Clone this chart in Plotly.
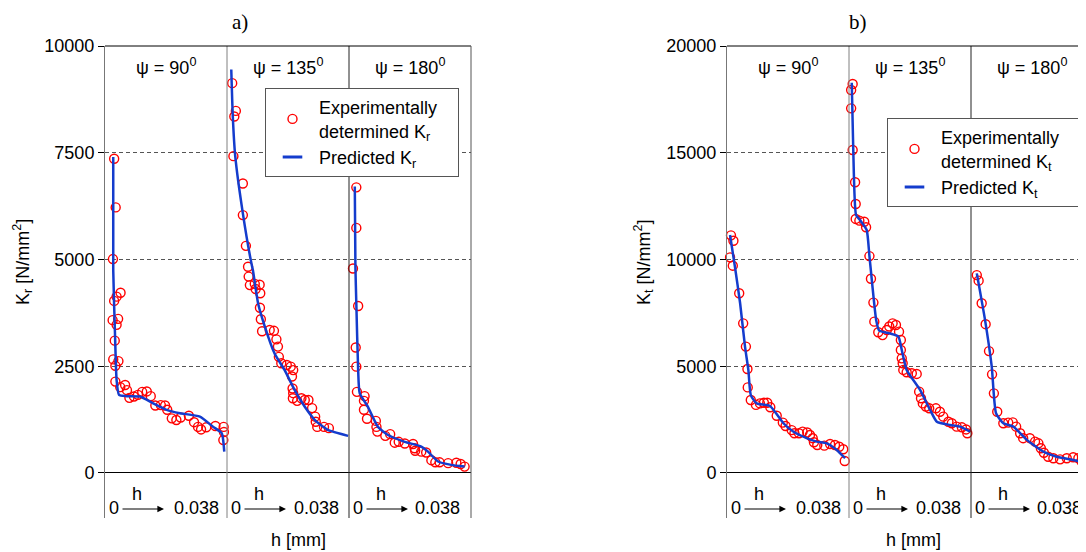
import plotly.graph_objects as go

SEG = 0.04  # h-axis width allotted to each psi segment
psi_labels = ["ψ = 90<sup>0</sup>", "ψ = 135<sup>0</sup>", "ψ = 180<sup>0</sup>"]
h_start_label = "0"
h_end_label = "0.038"
h_arrow_label = "h"
yticks_a = [0, 2500, 5000, 7500, 10000]
yticks_b = [0, 5000, 10000, 15000, 20000]

# ---------------- Panel a) K_r ----------------
a90_exp_h = [0.0030,0.0035,0.0026,0.0030,0.0038,0.0051,0.0025,0.0043,0.0038,0.0032,0.0027,0.0044,0.0034,0.0034,0.0050,0.0066,0.0072,0.0080,0.0095,0.0108,0.0122,0.0137,0.0150,0.0165,0.0183,0.0197,0.0204,0.0219,0.0234,0.0248,0.0275,0.0292,0.0305,0.0315,0.0332,0.0362,0.0389,0.0390,0.0388]
a90_exp_k = [7360,6220,5010,4030,4130,4220,3580,3610,3470,3100,2660,2620,2510,2140,2010,2060,1940,1760,1790,1830,1900,1910,1800,1580,1590,1580,1480,1280,1240,1300,1340,1190,1080,1020,1070,1100,1080,960,770]
a90_pred_h = [0.0027,0.0027,0.0033,0.0038,0.0046,0.0071,0.0115,0.0158,0.0202,0.0246,0.0311,0.0355,0.0383,0.0391]
a90_pred_k = [7400,4750,3190,2180,1830,1800,1790,1630,1480,1400,1320,1080,930,500]

a135_exp_h = [0.0017,0.0029,0.0024,0.0021,0.0052,0.0052,0.0062,0.0069,0.0071,0.0075,0.0091,0.0107,0.0094,0.0109,0.0108,0.0111,0.0115,0.0140,0.0154,0.0162,0.0167,0.0170,0.0178,0.0196,0.0209,0.0217,0.0213,0.0215,0.0217,0.0216,0.0230,0.0244,0.0255,0.0267,0.0279,0.0289,0.0291,0.0296,0.0318,0.0334]
a135_exp_k = [9130,8480,8350,7420,6780,6040,5320,4830,4600,4400,4430,4410,4310,4210,3870,3600,3320,3350,3330,3130,2960,2720,2570,2530,2490,2410,2260,1980,1870,1750,1690,1750,1710,1710,1520,1320,1200,1080,1080,1050]
a135_pred_h = [0.0014,0.0019,0.0027,0.0052,0.0080,0.0085,0.0102,0.0124,0.0156,0.0189,0.0222,0.0255,0.0288,0.0331,0.0397]
a135_pred_k = [9450,8350,7420,6080,4910,4750,3970,3430,2800,2410,1940,1550,1240,1010,870]

a180_exp_h = [0.0024,0.0024,0.0013,0.0030,0.0022,0.0024,0.0026,0.0051,0.0049,0.0049,0.0059,0.0088,0.0090,0.0093,0.0119,0.0135,0.0150,0.0163,0.0183,0.0210,0.0215,0.0217,0.0237,0.0253,0.0270,0.0283,0.0297,0.0325,0.0352,0.0366,0.0379]
a180_exp_k = [6690,5740,4790,3910,2940,2490,1900,1800,1690,1480,1270,1220,1080,970,870,910,710,730,690,680,580,520,500,480,300,250,250,230,240,210,150]
a180_pred_h = [0.0019,0.0021,0.0024,0.0030,0.0035,0.0062,0.0095,0.0128,0.0183,0.0237,0.0259,0.0292,0.0335,0.0379]
a180_pred_k = [6710,4830,3970,2410,1870,1550,1080,890,730,620,500,270,190,150]

# ---------------- Panel b) K_t ----------------
b90_exp_h = [0.0013,0.0021,0.0010,0.0019,0.0040,0.0053,0.0062,0.0067,0.0068,0.0078,0.0095,0.0108,0.0121,0.0132,0.0142,0.0163,0.0183,0.0192,0.0212,0.0221,0.0236,0.0248,0.0263,0.0272,0.0281,0.0285,0.0296,0.0319,0.0338,0.0354,0.0368,0.0381,0.0386]
b90_exp_k = [11130,10880,10100,9710,8420,7010,5920,4870,4010,3420,3190,3260,3290,3290,3080,2680,2360,2200,2010,1860,1860,1940,1900,1780,1630,1440,1310,1280,1360,1310,1230,1110,560]
b90_pred_h = [0.0010,0.0026,0.0043,0.0059,0.0070,0.0078,0.0097,0.0141,0.0185,0.0217,0.0261,0.0294,0.0327,0.0360,0.0387]
b90_pred_k = [11150,9660,7950,5920,4830,3650,3260,3140,2330,1940,1630,1470,1390,1080,690]

b135_exp_h = [0.0012,0.0007,0.0007,0.0012,0.0020,0.0022,0.0022,0.0034,0.0050,0.0056,0.0067,0.0072,0.0080,0.0083,0.0096,0.0110,0.0124,0.0132,0.0143,0.0154,0.0164,0.0170,0.0170,0.0173,0.0176,0.0178,0.0189,0.0206,0.0222,0.0230,0.0236,0.0242,0.0252,0.0263,0.0285,0.0298,0.0309,0.0326,0.0337,0.0353,0.0370,0.0384,0.0388]
b135_exp_k = [18220,17940,17080,15130,13620,12600,11900,11820,11770,11510,10160,9100,7980,7090,6590,6460,6700,6860,7010,6930,6620,6230,5760,5370,5140,4830,4720,4670,4640,3810,3500,3260,3110,3030,3030,2870,2640,2400,2330,2170,2140,2040,1860]
b135_pred_h = [0.0009,0.0014,0.0023,0.0036,0.0058,0.0067,0.0089,0.0099,0.0134,0.0162,0.0173,0.0189,0.0233,0.0266,0.0288,0.0331,0.0364,0.0397]
b135_pred_k = [18280,15130,12090,11850,11380,10160,7170,6670,6540,6390,5760,4830,3890,2950,2400,2250,2170,1940]

b180_exp_h = [0.0019,0.0025,0.0035,0.0048,0.0059,0.0069,0.0075,0.0086,0.0106,0.0122,0.0137,0.0148,0.0161,0.0171,0.0193,0.0210,0.0221,0.0229,0.0239,0.0253,0.0270,0.0292,0.0314,0.0335,0.0352,0.0363,0.0374]
b180_exp_k = [9270,9010,7950,6970,5710,4620,3730,2870,2330,2360,2370,2170,1860,1630,1630,1470,1390,1160,950,760,690,640,690,740,690,530,270]
b180_pred_h = [0.0019,0.0046,0.0068,0.0082,0.0106,0.0139,0.0183,0.0237,0.0281,0.0335,0.0377,0.0390]
b180_pred_k = [9350,7170,4980,2800,2330,2170,1550,1000,760,610,450,380]


def join(hs, ks):
    xs, ys = [], []
    for i, (h, k) in enumerate(zip(hs, ks)):
        xs += [i * SEG + v for v in h] + [None]
        ys += list(k) + [None]
    return xs, ys


RED = "rgb(255,0,0)"
BLUE = "rgb(20,60,205)"
FONT = "Liberation Sans, Arial, sans-serif"
OFF = 8               # page body margin offset
W, H = 1086 - OFF, 552 - OFF
PX = SEG / 122.0      # data units per pixel on the h axis
END_OFFS = [91, 89, 88]  # pixel offset of "0.038" label inside each segment


def fx(px):  # page pixel x -> paper fraction
    return (px - OFF) / W


def fy(py):  # page pixel y -> paper fraction
    return 1 - (py - OFF) / H


fig = go.Figure()

panels = [
    dict(xa="x", ya="y", leg="legend", sub="r",
         exp=join([a90_exp_h, a135_exp_h, a180_exp_h], [a90_exp_k, a135_exp_k, a180_exp_k]),
         pred=join([a90_pred_h, a135_pred_h, a180_pred_h], [a90_pred_k, a135_pred_k, a180_pred_k])),
    dict(xa="x2", ya="y2", leg="legend2", sub="t",
         exp=join([b90_exp_h, b135_exp_h, b180_exp_h], [b90_exp_k, b135_exp_k, b180_exp_k]),
         pred=join([b90_pred_h, b135_pred_h, b180_pred_h], [b90_pred_k, b135_pred_k, b180_pred_k])),
]

NB = "\u00a0"
for p in panels:
    fig.add_trace(go.Scatter(
        x=p["exp"][0], y=p["exp"][1], mode="markers", xaxis=p["xa"], yaxis=p["ya"],
        legend=p["leg"],
        name=f"Experimentally{NB * 3}<br>determined K<sub>{p['sub']}</sub>",
        marker=dict(symbol="circle-open", size=9, color=RED, line=dict(width=1.4, color=RED)),
        cliponaxis=False,
    ))
    fig.add_trace(go.Scatter(
        x=p["pred"][0], y=p["pred"][1], mode="lines", xaxis=p["xa"], yaxis=p["ya"],
        legend=p["leg"], showlegend=False, name=f"Predicted K<sub>{p['sub']}</sub>",
        line=dict(color=BLUE, width=2.5, shape="spline", smoothing=0.5),
        connectgaps=False,
    ))
    # legend-only entry giving the short dash symbol of the reference
    fig.add_trace(go.Scatter(
        x=[None], y=[None], mode="markers", xaxis=p["xa"], yaxis=p["ya"],
        legend=p["leg"], name=f"Predicted K<sub>{p['sub']}</sub>",
        marker=dict(symbol="line-ew-open", size=14, color=BLUE, line=dict(width=3, color=BLUE)),
    ))

ydom = [fy(518), fy(46)]
xa_dom = [fx(105), fx(471)]
xb_dom = [fx(727), 1.0]

ax_common = dict(showgrid=False, zeroline=False, showticklabels=False, ticks="", showline=False)
y_common = dict(showgrid=True, gridcolor="#555", griddash="4px,3px", gridwidth=1,
                zeroline=True, zerolinecolor="black", zerolinewidth=1,
                showline=True, linecolor="#777", linewidth=1, mirror=False,
                ticks="outside", ticklen=6, tickcolor="black", automargin=False,
                tickfont=dict(size=18, family=FONT, color="black"), domain=ydom)

fig.update_layout(
    width=W, height=H, margin=dict(l=0, r=0, t=0, b=0, autoexpand=False),
    paper_bgcolor="white", plot_bgcolor="white",
    font=dict(family=FONT, size=18, color="black"),
    xaxis=dict(domain=xa_dom, range=[0, 3 * SEG], **ax_common),
    xaxis2=dict(domain=xb_dom, range=[0, 3 * SEG * (1086 - 727) / 366.0], anchor="y2", **ax_common),
    yaxis=dict(range=[-1054, 10000], tickvals=yticks_a, ticktext=[str(v) for v in yticks_a],
               anchor="x", **y_common),
    yaxis2=dict(range=[-2108, 20000], tickvals=yticks_b, ticktext=[str(v) for v in yticks_b],
                anchor="x2", **y_common),
    legend=dict(x=fx(265), y=fy(88), xanchor="left", yanchor="top",
                bordercolor="#555", borderwidth=1, bgcolor="white", itemwidth=43,
                font=dict(size=18, family=FONT), tracegroupgap=4),
    legend2=dict(x=fx(887), y=fy(118), xanchor="left", yanchor="top",
                 bordercolor="#555", borderwidth=1, bgcolor="white", itemwidth=43,
                 font=dict(size=18, family=FONT), tracegroupgap=4),
)

shapes = []
annotations = []


def txt(xref, x, y, text, size=18, **kw):
    d = dict(xref=xref, yref="paper", x=x, y=y, text=text, showarrow=False,
             xanchor="center", yanchor="middle", font=dict(size=size))
    d.update(kw)
    return d


for p, ytitle, title, tx, ytx, hx in [
    (panels[0], "K<sub>r</sub> [N/mm<sup>2</sup>]", "a)", 240, 22, 298),
    (panels[1], "K<sub>t</sub> [N/mm<sup>2</sup>]", "b)", 858, 643, 913),
]:
    xa, ya = p["xa"], p["ya"]
    # separators between psi segments
    for k, col in [(1, "#808080"), (2, "#222")]:
        shapes.append(dict(type="line", xref=xa, yref=f"{ya} domain", x0=k * SEG, x1=k * SEG,
                           y0=0, y1=1, line=dict(color=col, width=1)))
    # top frame line
    shapes.append(dict(type="line", xref=f"{xa} domain", yref=f"{ya} domain", x0=0, x1=1,
                       y0=1, y1=1, line=dict(color="black", width=1)))
    for k in range(3):
        x0 = k * SEG
        annotations.append(txt(xa, x0 + SEG / 2, fy(67), psi_labels[k]))
        annotations.append(txt(xa, x0 + 9 * PX, fy(508), h_start_label))
        annotations.append(txt(xa, x0 + 32 * PX, fy(494), h_arrow_label))
        annotations.append(txt(xa, x0 + END_OFFS[k] * PX, fy(508), h_end_label))
        annotations.append(dict(xref=xa, yref="paper", x=x0 + 59 * PX, y=fy(509),
                                ax=-43, ay=0, text="", showarrow=True, arrowhead=2,
                                arrowsize=1.1, arrowwidth=1.2, arrowcolor="black"))
    annotations.append(dict(xref="paper", yref="paper", x=fx(tx), y=fy(22), text=title,
                            showarrow=False, xanchor="center", yanchor="middle",
                            font=dict(size=21, family="Liberation Serif, serif")))
    annotations.append(txt("paper", fx(ytx), fy(262), ytitle, textangle=-90))
    annotations.append(txt("paper", fx(hx), fy(540), "h [mm]"))

# right frame line of panel a
shapes.append(dict(type="line", xref="x domain", yref="y domain", x0=1, x1=1, y0=0, y1=1,
                   line=dict(color="#555", width=1)))

fig.update_layout(shapes=shapes, annotations=annotations)
fig.write_html("out.html")
